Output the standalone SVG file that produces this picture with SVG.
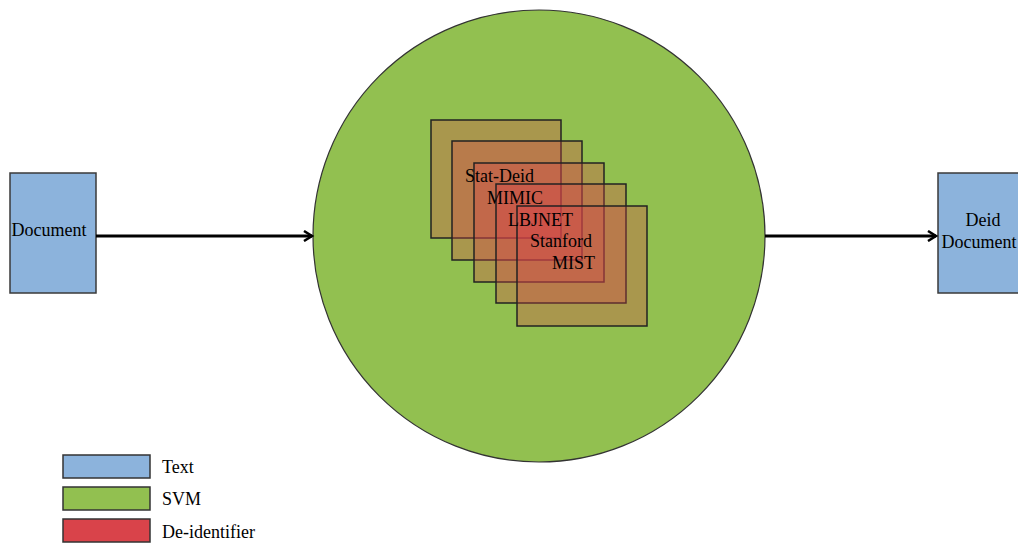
<svg xmlns="http://www.w3.org/2000/svg" width="1018" height="544" viewBox="0 0 1018 544">
<style>
text{font-family:"Liberation Serif","Times New Roman",serif;font-size:18px;fill:#000}
.box{fill:#8cb3dc;stroke:#3a3a3a;stroke-width:1.5}
.sq{fill:#d9434a;fill-opacity:0.33;stroke:#222;stroke-width:1.5}
.conn{stroke:#000;stroke-width:3;fill:none}
.leg{stroke:#333;stroke-width:1.5}
</style>
<defs>
<marker id="arr" markerWidth="12" markerHeight="12" refX="9" refY="6" orient="auto" markerUnits="userSpaceOnUse">
<path d="M1,1 L9,6 L1,11" fill="none" stroke="#000" stroke-width="2.5"/>
</marker>
</defs>
<rect width="1018" height="544" fill="#fff"/>
<g id="svm">
<circle cx="539" cy="236" r="226" fill="#92c050" stroke="#333" stroke-width="1.2"/>
</g>
<g id="deidentifiers">
<rect class="sq" x="431" y="120" width="130" height="118"/>
<rect class="sq" x="452" y="141" width="130" height="119"/>
<rect class="sq" x="474" y="163" width="130" height="119"/>
<rect class="sq" x="496" y="184" width="130" height="119"/>
<rect class="sq" x="517" y="206" width="130" height="120"/>
<text x="465" y="182">Stat-Deid</text>
<text x="487" y="204">MIMIC</text>
<text x="508" y="226">LBJNET</text>
<text x="530" y="247">Stanford</text>
<text x="552" y="269">MIST</text>
</g>
<g id="document">
<rect class="box" x="10" y="173" width="86" height="120"/>
<text x="49" y="236" text-anchor="middle">Document</text>
</g>
<g id="deid-document">
<rect class="box" x="938" y="173" width="86" height="120"/>
<text x="983" y="226" text-anchor="middle">Deid</text>
<text x="979" y="248" text-anchor="middle">Document</text>
</g>
<g id="connectors">
<line class="conn" x1="96" y1="236" x2="312" y2="236" marker-end="url(#arr)"/>
<line class="conn" x1="765" y1="236" x2="936" y2="236" marker-end="url(#arr)"/>
</g>
<g id="legend">
<rect class="leg" x="63" y="455" width="87" height="23" fill="#8cb3dc"/>
<text x="162" y="473">Text</text>
<rect class="leg" x="63" y="487" width="87" height="23" fill="#92c050"/>
<text x="162" y="505">SVM</text>
<rect class="leg" x="63" y="519" width="87" height="23" fill="#d9434a"/>
<text x="162" y="538">De-identifier</text>
</g>
</svg>
